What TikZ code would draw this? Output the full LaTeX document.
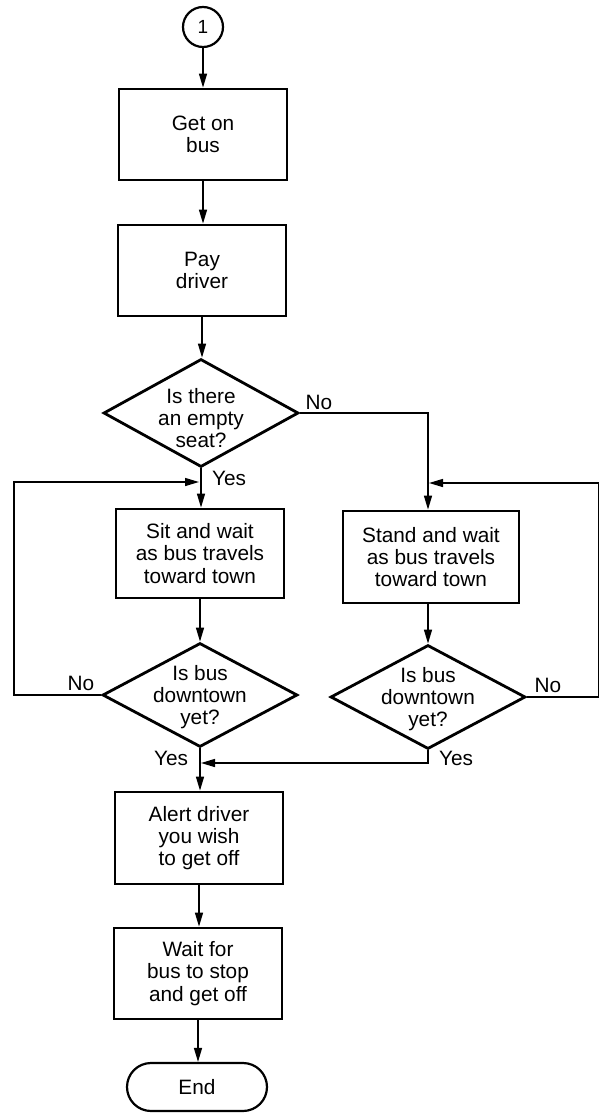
\documentclass[tikz,border=0pt]{standalone}
\usepackage{fontspec}
\setmainfont{Liberation Sans}
\usetikzlibrary{shapes.geometric,arrows.meta}
\begin{document}
\begin{tikzpicture}[x=1pt,y=-1pt,
  txt/.style={font=\fontsize{20.8}{22.3}\selectfont,align=center,inner sep=0pt},
  procbox/.style={txt,draw,line width=2.8pt,minimum width=168pt,minimum height=91pt},
  decbox/.style={draw,diamond,line width=2.8pt,inner sep=0pt,minimum width=195pt,minimum height=104pt},
  conn/.style={line width=1.4pt},
  arr/.style={line width=1.4pt,-{Triangle[length=14pt,width=8pt]}}]
\useasboundingbox (0,0) rectangle (600,1114);

% nodes
\node[draw,circle,line width=2.2pt,minimum size=40pt,inner sep=0pt,font=\fontsize{19}{20}\selectfont] (c1) at (203,27) {1};
\node[procbox] (b1) at (203,134.5) {Get on\\bus};
\node[procbox] (b2) at (202,270.5) {Pay\\driver};
\node[decbox,minimum height=108pt] (d1) at (201,413) {};
\node[txt] (t1) at (201,418) {Is there\\an empty\\seat?};
\node[procbox,minimum height=89pt] (b3) at (200,553.5) {Sit and wait\\as bus travels\\toward town};
\node[decbox] (d2) at (200,695) {};
\node[txt] (t2) at (200,697) {Is bus\\downtown\\yet?};
\node[procbox,minimum width=176pt,minimum height=92pt] (b4) at (431,557) {Stand and wait\\as bus travels\\toward town};
\node[decbox] (d3) at (428,697) {};
\node[txt] (t3) at (428,699) {Is bus\\downtown\\yet?};
\node[procbox,minimum height=92pt] (b5) at (199,838) {Alert driver\\you wish\\to get off};
\node[procbox] (b6) at (198,973.5) {Wait for\\bus to stop\\and get off};
\node[txt,draw,line width=2.2pt,rounded corners=24pt,minimum width=140pt,minimum height=48pt] (e) at (197,1087) {End};

% labels
\node[txt] (l1) at (229,478) {Yes};
\node[txt] (l2) at (319,402) {No};
\node[txt] (l3) at (81,683) {No};
\node[txt] (l4) at (171,758) {Yes};
\node[txt] (l5) at (548,685) {No};
\node[txt] (l6) at (456,758) {Yes};

% helper coordinates
\coordinate (lc) at (14,482);
\coordinate (jl) at (199,482);
\coordinate (rc) at (598.5,483);
\coordinate (jr) at (429,483);
\coordinate (jm) at (201,763);

% connectors
\draw[arr] (c1.south) -- (c1.south |- b1.north);
\draw[arr] (b1.south) -- (b1.south |- b2.north);
\draw[arr] (b2.south) -- (b2.south |- d1.north);
\draw[arr] (d1.south) -- (d1.south |- b3.north);
\draw[arr] (d1.east) -| (d3.north |- b4.north);
\draw[arr] (b3.south) -- (b3.south |- d2.north);
\draw[arr] (b4.south -| d3.north) -- (d3.north);
\draw[arr] (d2.west) -| (lc) -- (jl);
\draw[arr] (d3.east) -| (rc) -- (jr);
\draw[arr] (d3.south) |- (jm);
\draw[arr] (d2.south) -- (d2.south |- b5.north);
\draw[arr] (b5.south) -- (b5.south |- b6.north);
\draw[arr] (b6.south) -- (b6.south |- e.north);
\end{tikzpicture}
\end{document}
